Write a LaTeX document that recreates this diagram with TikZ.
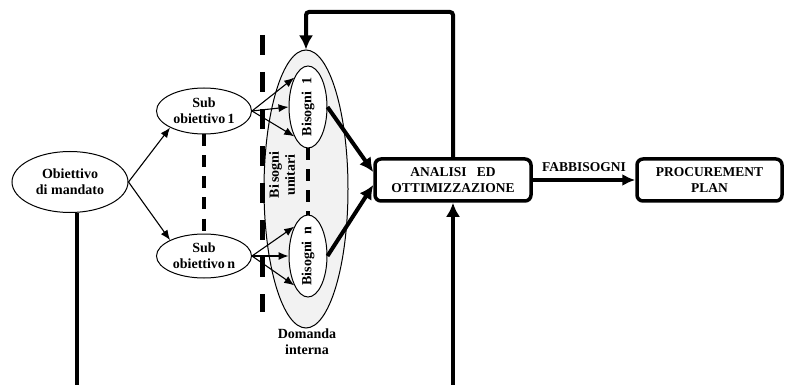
\documentclass[tikz,border=0pt]{standalone}
\usepackage{fontspec}
\setmainfont{Liberation Serif}
\usetikzlibrary{shapes.geometric,arrows.meta,calc}
\definecolor{domfill}{HTML}{F2F2F2}
\begin{document}
\begin{tikzpicture}[x=1pt,y=-1pt,
  txt/.style={font=\fontsize{14}{16}\selectfont\bfseries, align=center},
  captxt/.style={font=\fontsize{13.5}{16}\selectfont\bfseries, align=center},
  ell/.style={ellipse, draw, line width=1pt, inner sep=0pt, fill=white, txt},
  boxnode/.style={draw, line width=3.5pt, rounded corners=6pt, inner sep=0pt, minimum height=42pt, captxt},
  thin arrow/.style={line width=1.1pt, -{Latex[length=10pt,width=8pt]}},
  thick arrow/.style={line width=4pt, -{Latex[length=14pt,width=14pt]}},
  thick line/.style={line width=4pt},
  bigdash/.style={line width=5pt, dash pattern=on 20pt off 17pt},
  smalldash/.style={line width=4pt, dash pattern=on 12pt off 9pt}]
\useasboundingbox (0,0) rectangle (785,385);

% coordinates
\coordinate (top) at (453,12);
\coordinate (bot) at (453,390);
\coordinate (objbot) at (77,390);
\coordinate (dtop) at (262,35);
\coordinate (dbot) at (262,312);

% big grey ellipse
\node[ellipse, draw, line width=1pt, fill=domfill, minimum width=84pt, minimum height=278pt] (dom) at (306,189) {};

% big dashed line
\draw[bigdash] (dtop) -- (dbot);

% nodes
\node[ell, minimum width=116pt, minimum height=61pt] (obj) at (70,182) {Obiettivo\\di mandato};
\node[ell, minimum width=95pt, minimum height=46pt] (sub1) at (204,111) {Sub\\obiettivo\,1};
\node[ell, minimum width=95pt, minimum height=44pt] (subn) at (204,256) {Sub\\obiettivo\,n};
\node[ell, minimum width=38pt, minimum height=82pt] (b1) at (308,107) {};
\node[ell, minimum width=38pt, minimum height=82pt] (bn) at (308,256) {};
\node[txt, rotate=90] (b1t) at (b1) {Bisogni\ \ 1};
\node[txt, rotate=90] (bnt) at (bn) {Bisogni\ \ n};
\node[txt, rotate=90] (bu) at (282,175) {Bi\kern2pt sogni\\unitari};
\node[txt] (dlab) at (307,342) {Domanda\\interna};

\node[boxnode, minimum width=156pt] (ana) at (453,180) {ANALISI\ \ \ ED\\OTTIMIZZAZIONE};
\node[boxnode, minimum width=145pt] (proc) at (709.5,180) {PROCUREMENT\\PLAN};

% dashed connectors
\draw[smalldash] (sub1.south) -- (subn.north);
\draw[smalldash] (b1.south) -- (bn.north);

% arrows
\draw[thin arrow] (obj.east) -- (sub1.south west);
\draw[thin arrow] (obj.east) -- (subn.north west);
\foreach \s/\b in {sub1/b1, subn/bn}{
  \draw[thin arrow] (\s.east) -- (\b.north west);
  \draw[thin arrow] (\s.east) -- (\b.west);
  \draw[thin arrow] (\s.east) -- (\b.south west);
}
\draw[thick arrow] (b1.east) -- ([yshift=8pt]ana.west);
\draw[thick arrow] (bn.east) -- ([yshift=-5pt]ana.west);

\draw[line width=4pt, -{Latex[length=13pt,width=12pt]}] (ana.east) -- (proc.west)
  node[midway, above=3pt, captxt] (fab) {FABBISOGNI};

\draw[thick arrow, rounded corners=3pt] (ana.north) -- (ana.north |- top) -- (dom.north |- top) -- (dom.north);
\draw[thick arrow] (bot) -- (ana.south);
\draw[thick line] (obj.south -| objbot) -- (objbot);
\end{tikzpicture}
\end{document}
